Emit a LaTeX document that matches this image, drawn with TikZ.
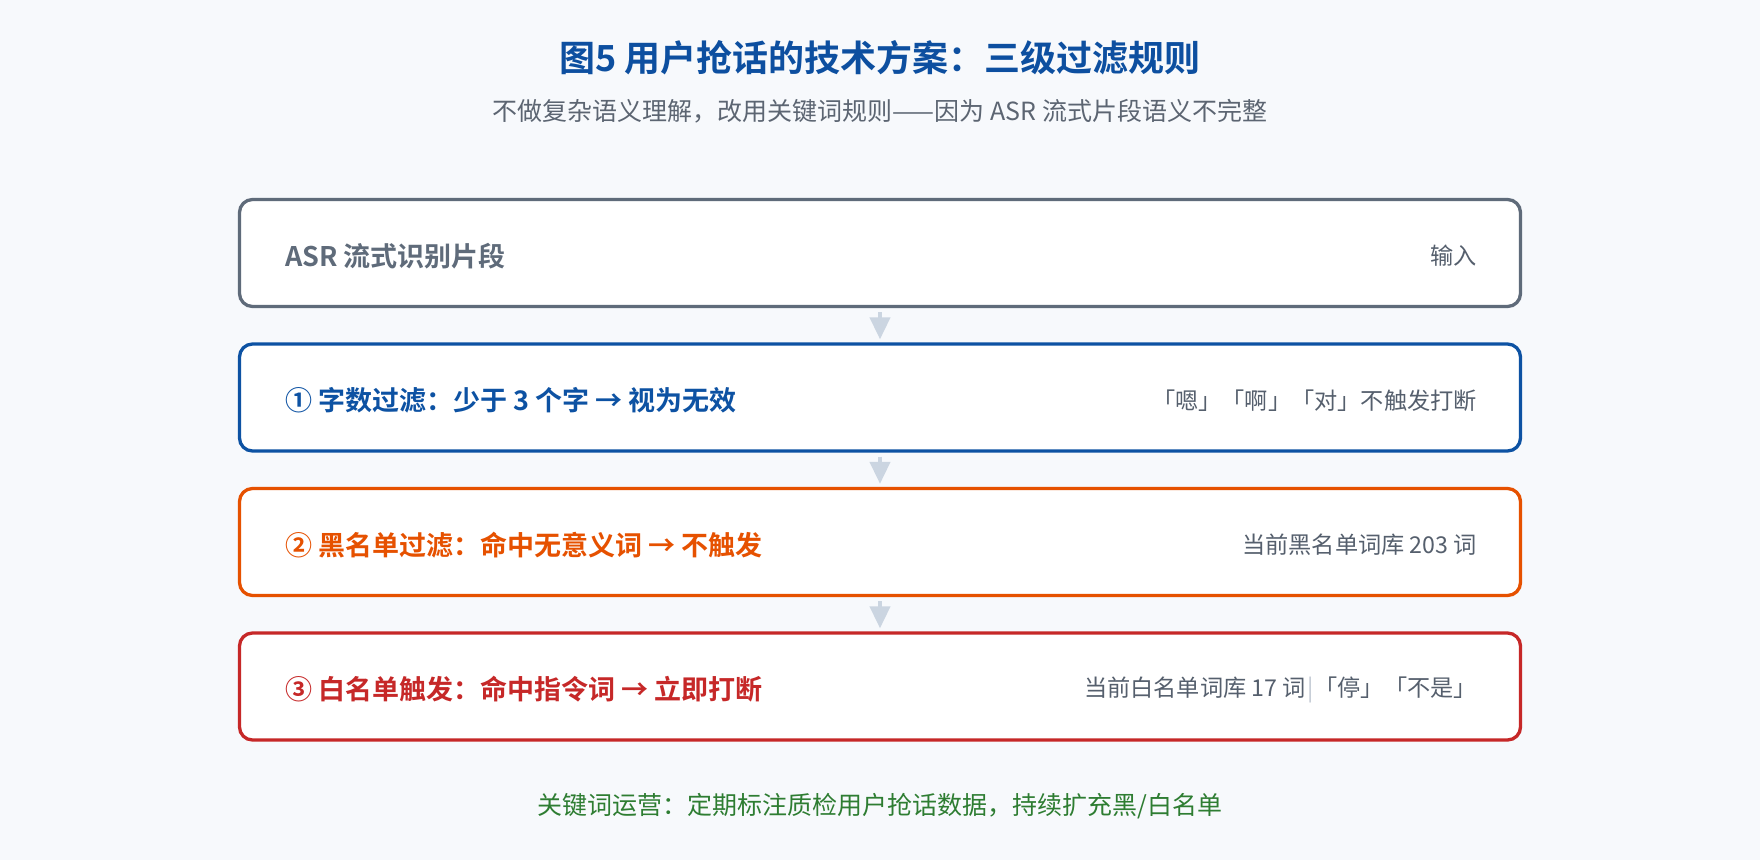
\documentclass[tikz,border=0pt]{standalone}
\usepackage{fontspec}
\setmainfont{Noto Sans CJK SC}[BoldFont={Noto Sans CJK SC Bold}]
\usetikzlibrary{arrows.meta,positioning}

\definecolor{bgc}{HTML}{F7F9FC}
\definecolor{titlec}{HTML}{0D4FA0}
\definecolor{subc}{HTML}{5C6572}
\definecolor{notec}{HTML}{555F6D}
\definecolor{sepc}{HTML}{C0C7D2}
\definecolor{arrowc}{HTML}{CBD5E1}
\definecolor{c0}{HTML}{5F6B7A}
\definecolor{c1}{HTML}{0D52A3}
\definecolor{c2}{HTML}{E65100}
\definecolor{c3}{HTML}{C62828}
\definecolor{footc}{HTML}{2E7D32}

\newcommand\nd{144.5pt}

\begin{document}
\begin{tikzpicture}[x=1pt,y=-1pt,
			stage/.style={draw,line width=3.3pt,fill=white,rounded corners=13pt,minimum width=1281pt,minimum height=107pt},
			lab/.style={font=\fontsize{27}{32}\selectfont\bfseries,anchor=west,inner sep=0pt},
			note/.style={font=\fontsize{23.2}{28}\selectfont,text=notec,anchor=east,inner sep=0pt},
			flow/.style={draw=arrowc,line width=4pt,-{Triangle[length=22pt,width=20pt]}}
		]
		\fill[bgc] (0,0) rectangle (1760,860);

		\node [font=\fontsize{36}{42}\selectfont\bfseries,text=titlec] (title) at (880,58) {图5 用户抢话的技术方案：三级过滤规则};
		\node [font=\fontsize{25}{30}\selectfont,text=subc] (sub) at (880,111) {不做复杂语义理解，改用关键词规则——因为 ASR 流式片段语义不完整};

		\node [stage,draw=c0] (s0) at (880,253) {};
		\node [stage,draw=c1] (s1) at ([yshift=-\nd]s0) {};
		\node [stage,draw=c2] (s2) at ([yshift=-\nd]s1) {};
		\node [stage,draw=c3] (s3) at ([yshift=-\nd]s2) {};

		\node [lab,text=c0] (l0) at ([xshift=47pt,yshift=-3pt]s0.west) {ASR 流式识别片段};
		\node [lab,text=c1] (l1) at ([xshift=47pt,yshift=-3pt]s1.west) {① 字数过滤：少于 3 个字 → 视为无效};
		\node [lab,text=c2] (l2) at ([xshift=47pt,yshift=-3pt]s2.west) {② 黑名单过滤：命中无意义词 → 不触发};
		\node [lab,text=c3] (l3) at ([xshift=47pt,yshift=-3pt]s3.west) {③ 白名单触发：命中指令词 → 立即打断};

		\node [note] (n0) at ([xshift=-45pt,yshift=-3pt]s0.east) {输入};
		\node [note] (n1) at ([xshift=-45pt,yshift=-3pt]s1.east) {「嗯」「啊」「对」不触发打断};
		\node [note] (n2) at ([xshift=-45pt,yshift=-3pt]s2.east) {当前黑名单词库 203 词};
		\node [note] (n3) at ([xshift=-45pt,yshift=-3pt]s3.east) {当前白名单词库 17 词\hspace{1.5pt}\textcolor{sepc}{|}\hspace{1pt}「停」「不是」};

		\draw[flow] ([yshift=-4pt]s0.south) -- ([yshift=3pt]s1.north);
		\draw[flow] ([yshift=-4pt]s1.south) -- ([yshift=3pt]s2.north);
		\draw[flow] ([yshift=-4pt]s2.south) -- ([yshift=3pt]s3.north);

		\node [font=\fontsize{25}{30}\selectfont,text=footc] (foot) at (880,806) {关键词运营：定期标注质检用户抢话数据，持续扩充黑/白名单};
	\end{tikzpicture}
\end{document}
